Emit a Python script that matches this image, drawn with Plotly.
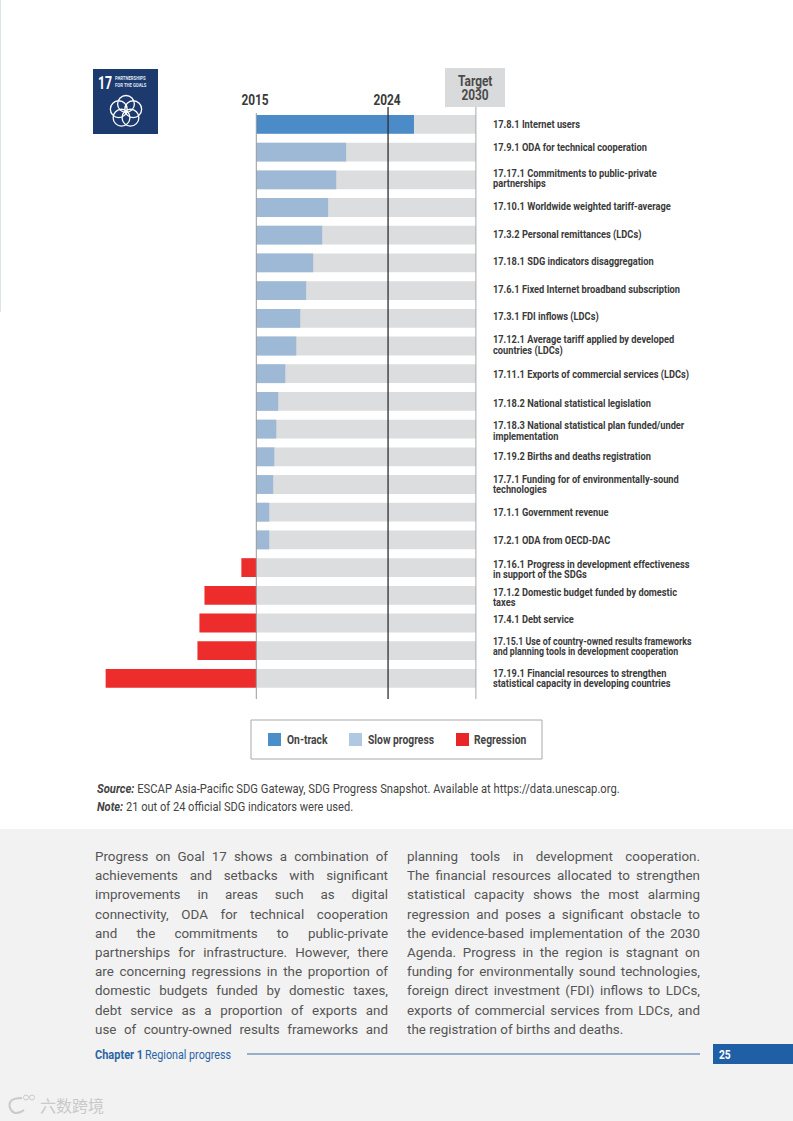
import json
import math
import plotly.graph_objects as go

W, H = 793, 1121
indicators = ["17.8.1","17.9.1","17.17.1","17.10.1","17.3.2","17.18.1","17.6.1","17.3.1","17.12.1","17.11.1",
              "17.18.2","17.18.3","17.19.2","17.7.1","17.1.1","17.2.1","17.16.1","17.1.2","17.4.1","17.15.1","17.19.1"]
labels = ["17.8.1 Internet users","17.9.1 ODA for technical cooperation",
          "17.17.1 Commitments to public-private<br>partnerships","17.10.1 Worldwide weighted tariff-average",
          "17.3.2 Personal remittances (LDCs)","17.18.1 SDG indicators disaggregation",
          "17.6.1 Fixed Internet broadband subscription","17.3.1 FDI inflows (LDCs)",
          "17.12.1 Average tariff applied by developed<br>countries (LDCs)","17.11.1 Exports of commercial services (LDCs)",
          "17.18.2 National statistical legislation","17.18.3 National statistical plan funded/under<br>implementation",
          "17.19.2 Births and deaths registration","17.7.1 Funding for of environmentally-sound<br>technologies",
          "17.1.1 Government revenue","17.2.1 ODA from OECD-DAC",
          "17.16.1 Progress in development effectiveness<br>in support of the SDGs",
          "17.1.2 Domestic budget funded by domestic<br>taxes","17.4.1 Debt service",
          "17.15.1 Use of country-owned results frameworks<br>and planning tools in development cooperation",
          "17.19.1 Financial resources to strengthen<br>statistical capacity in developing countries"]
progress = [71.8,40.9,36.4,32.7,30.0,25.9,22.7,20.0,18.2,13.2,10.0,9.1,8.2,7.7,5.9,5.9,-6.8,-23.6,-25.9,-26.8,-68.6]
status = ["On-track"]+["Slow progress"]*15+["Regression"]*5
status_colors = {"On-track":"#4a8bc8","Slow progress":"#9db9d6","Regression":"#ec2d2b"}
legend_colors = {"On-track":"#4a8fc7","Slow progress":"#b0c8e2","Regression":"#e8262a"}
years = [2015,2024,2030]
col1 = ["Progress on Goal 17 shows a combination of","achievements and setbacks with significant",
        "improvements in areas such as digital","connectivity, ODA for technical cooperation",
        "and the commitments to public-private","partnerships for infrastructure. However, there",
        "are concerning regressions in the proportion of","domestic budgets funded by domestic taxes,",
        "debt service as a proportion of exports and","use of country-owned results frameworks and"]
col2 = ["planning tools in development cooperation.","The financial resources allocated to strengthen",
        "statistical capacity shows the most alarming","regression and poses a significant obstacle to",
        "the evidence-based implementation of the 2030","Agenda. Progress in the region is stagnant on",
        "funding for environmentally sound technologies,","foreign direct investment (FDI) inflows to LDCs,",
        "exports of commercial services from LDCs, and","the registration of births and deaths."]

BODY = "Roboto"
X0, PXV = 256.3, 2.196        # page position of the 2015 line, px per percent
Y0, PXC = 124.4, 27.7         # page position of first category, px per category
LABEL_Y = [124.5,147.5,178.5,206.5,234,261.5,289.5,316.5,345,374.5,403.5,431,456.5,484.5,512.5,540.5,569.5,597.5,619.5,646.5,678.5]

px = lambda x: x / W
py = lambda y: 1 - y / H
ann = []
squeeze = {}
def text(x, y, s, size, color="#333333", font=BODY, anchor="left", sq=None):
    d = dict(xref="paper", yref="paper", x=px(x), y=py(y), text=s, showarrow=False, xanchor=anchor,
             yanchor="middle", borderpad=0, align=anchor, font=dict(family=font, size=size, color=color))
    ann.append(d)
    if sq:
        squeeze[s.replace("<b>", "").replace("</b>", "").replace("<i>", "").replace("</i>", "")] = sq
shapes = []
def rect(x0, y0, x1, y1, fill, line=None, layer="below", lw=1):
    shapes.append(dict(type="rect", xref="paper", yref="paper", x0=px(x0), x1=px(x1), y0=py(y0), y1=py(y1),
                       fillcolor=fill, line=dict(color=line or fill, width=lw if line else 0), layer=layer))

fig = go.Figure()
fig.add_bar(y=indicators, x=[100]*len(indicators), orientation="h", marker=dict(color="#dcddde", line_width=0),
            width=0.68, showlegend=False, name="To 2030")
for st, c in status_colors.items():
    idx = [i for i, s in enumerate(status) if s == st]
    fig.add_bar(y=[indicators[i] for i in idx], x=[progress[i] for i in idx], orientation="h",
                marker=dict(color=c, line_width=0), width=0.68, name=st, showlegend=False)

# page furniture
rect(0, 829, W, H, "#f2f2f2")
rect(0, 0, 1, 312, "#dde5ea")
rect(445, 68, 505, 107, "#d9dadb")
rect(713, 1044, 793, 1064, "#1f5fa6")
shapes.append(dict(type="line", xref="paper", yref="paper", x0=px(247), x1=px(700), y0=py(1054), y1=py(1054),
                   line=dict(color="#3f6ca6", width=1.2)))
# year reference lines
for yr, col, top, lw in zip(years, ["#9a9a9a", "#2f2f2f", "#a8a8a8"], [113, 107, 107], [1, 1.3, 1]):
    v = (yr - 2015) / 15 * 100
    shapes.append(dict(type="line", xref="x", yref="paper", x0=v, x1=v, y0=py(top), y1=py(699),
                       line=dict(color=col, width=lw), layer="above"))
text(255, 100, "<b>2015</b>", 14, "#3a3a3a", anchor="center", sq=0.85)
text(387, 100, "<b>2024</b>", 14, "#3a3a3a", anchor="center", sq=0.85)
text(475, 81, "<b>Target</b>", 14, "#4a4a4a", anchor="center", sq=0.85)
text(475, 95, "<b>2030</b>", 14, "#4a4a4a", anchor="center", sq=0.85)

# SDG logo
rect(93, 69, 158, 134, "#1c3a6e")
text(96.5, 82, "<b>17</b>", 19, "#ffffff", sq=0.65)
text(114, 77.5, "<b>PARTNERSHIPS</b>", 5, "#dfe5ef", sq=0.85)
text(114, 85, "<b>FOR THE GOALS</b>", 5, "#dfe5ef", sq=0.85)
for k in range(5):
    a = math.radians(-90 + 72 * k)
    cx, cy = 126 + 7.6 * math.cos(a), 111.5 + 7.6 * math.sin(a)
    shapes.append(dict(type="circle", xref="paper", yref="paper", x0=px(cx-8.4), x1=px(cx+8.4),
                       y0=py(cy+8.4), y1=py(cy-8.4), line=dict(color="#ffffff", width=1.3)))

# row labels
for lab, yc, code in zip(labels, LABEL_Y, indicators):
    parts = lab.split("<br>")
    for j, p in enumerate(parts):
        text(492, yc + (j - (len(parts)-1)/2) * 10.5, f"<b>{p}</b>", 10.3, "#3a3a3a",
             sq=0.855 if code == "17.15.1" else 0.9)

# legend
rect(251, 720, 542, 759, "#ffffff", "#a9a9a9")
for name, sx, tx in [("On-track", 268, 285.5), ("Slow progress", 349, 367), ("Regression", 456, 473)]:
    rect(sx, 733, sx+13, 746, legend_colors[name])
    text(tx, 739.5, f"<b>{name}</b>", 12, "#444444", sq=0.86)

# notes
text(96, 788.5, "<b><i>Source:</i></b> ESCAP Asia-Pacific SDG Gateway, SDG Progress Snapshot. Available at https://data.unescap.org.", 12, "#444444", sq=0.935)
text(96, 806.5, "<b><i>Note:</i></b> 21 out of 24 official SDG indicators were used.", 12, "#444444", sq=0.925)

# body text
for colx, lines in ((93.5, col1), (405.5, col2)):
    for i, l in enumerate(lines):
        text(colx, 856.5 + i * 19.2, l, 13.4, "#555555")

# footer
text(93.5, 1054.5, "<b>Chapter 1</b>", 12.5, "#2a65a5", sq=0.88)
text(144, 1054, "Regional progress", 12.5, "#2a65a5", sq=0.86)
text(718, 1054.5, "<b>25</b>", 12, "#ffffff", sq=0.85)
text(39, 1105, "六数跨境", 16, "#c9c9c9", "Noto Sans CJK SC")
shapes.append(dict(type="path", xref="paper", yref="paper",
                   path=f"M {px(22)} {py(1098)} Q {px(7)} {py(1098)} {px(10)} {py(1108)} Q {px(14)} {py(1117)} {px(24)} {py(1110)}",
                   line=dict(color="#c9c9c9", width=2)))
for cx in (26, 32):
    shapes.append(dict(type="circle", xref="paper", yref="paper", x0=px(cx-2.5), x1=px(cx+2.5), y0=py(1100), y1=py(1095),
                       line=dict(color="#c9c9c9", width=1)))

fig.update_layout(
    width=W, height=H, margin=dict(l=0, r=0, t=0, b=0), autosize=False,
    paper_bgcolor="#ffffff", plot_bgcolor="rgba(0,0,0,0)", barmode="overlay", showlegend=False,
    shapes=shapes, annotations=ann,
    xaxis=dict(range=[-X0/PXV, (W-X0)/PXV], visible=False, fixedrange=True),
    yaxis=dict(type="category", categoryorder="array", categoryarray=indicators,
               range=[(H-Y0)/PXC, -Y0/PXC], visible=False, fixedrange=True),
)

justified = {l: 293 for l in col1 + col2[:-1]}
post = """
document.documentElement.style.margin = '0';
document.documentElement.style.overflow = 'hidden';
document.body.style.margin = '0';
var J = %s, S = %s;
function adjust(){
  document.querySelectorAll('.annotation-text').forEach(function(t){
    var s = t.textContent;
    if (J[s] !== undefined) {
      t.style.wordSpacing = '0px';
      var n = s.split(' ').length - 1;
      t.style.wordSpacing = ((J[s] - t.getComputedTextLength()) / n) + 'px';
    }
    if (S[s] !== undefined) {
      var x = parseFloat(t.getAttribute('x')) || 0;
      t.setAttribute('transform', 'translate(' + x + ' 0) scale(' + S[s] + ' 1) translate(' + (-x) + ' 0)');
    }
  });
}
adjust();
if (document.fonts && document.fonts.ready) document.fonts.ready.then(adjust);
""" % (json.dumps(justified), json.dumps(squeeze))
fig.write_html("out.html", post_script=post, config=dict(displayModeBar=False))
